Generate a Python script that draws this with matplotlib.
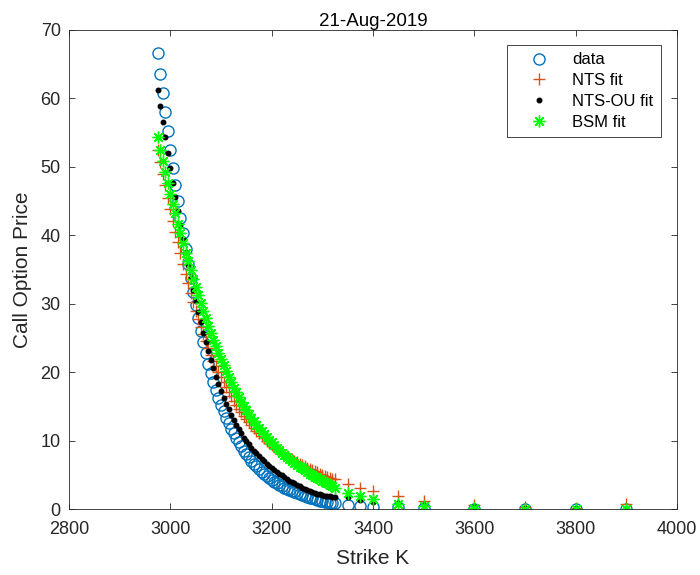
import matplotlib
matplotlib.use('Agg')
import matplotlib.pyplot as plt

plt.rcParams['font.family'] = ['Liberation Sans', 'DejaVu Sans']

# strikes (K)
strikes = [2975, 2980, 2985, 2990, 2995, 3000, 3005, 3010, 3015, 3020,
           3025, 3030, 3035, 3040, 3045, 3050, 3055, 3060, 3065, 3070,
           3075, 3080, 3085, 3090, 3095, 3100, 3105, 3110, 3115, 3120,
           3125, 3130, 3135, 3140, 3145, 3150, 3155, 3160, 3165, 3170,
           3175, 3180, 3185, 3190, 3195, 3200, 3205, 3210, 3215, 3220,
           3225, 3230, 3235, 3240, 3245, 3250, 3255, 3260, 3265, 3270,
           3275, 3280, 3285, 3290, 3295, 3300, 3305, 3310, 3315, 3320,
           3325, 3350, 3375, 3400, 3450, 3500, 3600, 3700, 3800, 3900]

# market call prices
price_data = [66.7, 63.6, 60.8, 58.0, 55.3, 52.5, 49.9, 47.4, 45.0, 42.6,
              40.3, 38.0, 35.9, 33.8, 31.8, 29.8, 27.9, 26.1, 24.4, 22.8,
              21.3, 19.9, 18.6, 17.4, 16.3, 15.3, 14.3, 13.4, 12.6, 11.8,
              11.1, 10.4, 9.8, 9.2, 8.6, 8.1, 7.6, 7.1, 6.7, 6.3,
              5.9, 5.5, 5.2, 4.9, 4.6, 4.3, 4.0, 3.8, 3.6, 3.4,
              3.2, 3.0, 2.8, 2.65, 2.5, 2.35, 2.2, 2.05, 1.9, 1.8,
              1.7, 1.6, 1.5, 1.4, 1.3, 1.2, 1.15, 1.05, 1.0, 0.95,
              0.9, 0.65, 0.55, 0.4, 0.3, 0.2, 0.1, 0.08, 0.06, 0.05]

# NTS model prices
price_nts = [52.4, 50.7, 49.0, 47.3, 45.5, 43.8, 42.1, 40.5, 39.0, 37.4,
             35.9, 34.4, 33.0, 31.6, 30.3, 29.0, 27.8, 26.7, 25.6, 24.6,
             23.6, 22.6, 21.7, 20.9, 20.1, 19.3, 18.6, 17.9, 17.2, 16.5,
             15.9, 15.3, 14.7, 14.2, 13.7, 13.2, 12.7, 12.3, 11.9, 11.5,
             11.1, 10.7, 10.4, 10.0, 9.7, 9.4, 9.1, 8.8, 8.5, 8.3,
             8.0, 7.8, 7.5, 7.3, 7.1, 6.9, 6.7, 6.5, 6.3, 6.1,
             5.9, 5.7, 5.6, 5.4, 5.2, 5.1, 4.9, 4.8, 4.6, 4.5,
             4.4, 3.7, 3.2, 2.75, 1.9, 1.3, 0.6, 0.3, 0.2, 0.8]

# NTS-OU model prices
price_ntsou = [61.2, 58.9, 56.6, 54.3, 52.1, 49.9, 47.7, 45.6, 43.5, 41.5,
               39.5, 37.6, 35.7, 33.9, 32.1, 30.4, 28.8, 27.3, 25.8, 24.4,
               23.1, 21.8, 20.6, 19.4, 18.3, 17.3, 16.3, 15.4, 14.6, 13.8,
               13.1, 12.4, 11.7, 11.1, 10.5, 10.0, 9.5, 9.0, 8.6, 8.2,
               7.8, 7.4, 7.1, 6.7, 6.4, 6.1, 5.8, 5.5, 5.2, 5.0,
               4.7, 4.5, 4.2, 4.0, 3.8, 3.6, 3.4, 3.2, 3.0, 2.85,
               2.7, 2.55, 2.4, 2.3, 2.2, 2.1, 2.0, 1.95, 1.9, 1.85,
               1.8, 1.75, 1.4, 1.1, 0.9, 0.65, 0.4, 0.25, 0.15, 0.1]

# Black-Scholes prices
price_bsm = [54.4, 52.5, 50.9, 49.2, 47.7, 46.1, 44.6, 43.2, 41.7, 40.3,
             38.9, 37.5, 36.2, 34.9, 33.7, 32.5, 31.3, 30.1, 29.0, 27.9,
             26.8, 25.8, 24.8, 23.8, 22.9, 22.0, 21.1, 20.2, 19.4, 18.6,
             17.8, 17.1, 16.4, 15.7, 15.1, 14.5, 13.9, 13.4, 12.9, 12.4,
             11.9, 11.4, 11.0, 10.6, 10.2, 9.8, 9.4, 9.0, 8.7, 8.3,
             8.0, 7.7, 7.4, 7.1, 6.8, 6.5, 6.2, 6.0, 5.7, 5.5,
             5.2, 5.0, 4.8, 4.6, 4.4, 4.2, 4.0, 3.8, 3.6, 3.4,
             3.2, 2.4, 1.9, 1.5, 0.8, 0.45, 0.15, 0.08, 0.05, 0.03]

axis_col = '#262626'

fig = plt.figure(figsize=(7, 5.75), dpi=100)
ax = fig.add_axes([0.0986, 0.114, 0.8686, 0.834])

ax.plot(strikes, price_data, linestyle='none', marker='o', markersize=8,
        markerfacecolor='none', markeredgecolor='#0072BD', markeredgewidth=1.0,
        label='data')
ax.plot(strikes, price_nts, linestyle='none', marker='+', markersize=9,
        markeredgecolor='#D95319', markeredgewidth=1.0, label='NTS fit')
ax.plot(strikes, price_ntsou, linestyle='none', marker='.', markersize=6.5,
        color='k', label='NTS-OU fit')
ax.plot(strikes, price_bsm, linestyle='none', marker=(8, 2, 0), markersize=8.5,
        markeredgecolor='#00FF00', markeredgewidth=1.0, label='BSM fit')

ax.set_xlim(2800, 4000)
ax.set_ylim(0, 70)
ax.set_xticks(range(2800, 4001, 200))
ax.set_yticks(range(0, 71, 10))

ax.tick_params(direction='in', top=True, right=True, length=4, width=0.6,
               colors=axis_col, labelsize=13)
ax.tick_params(axis='x', pad=8)
ax.tick_params(axis='y', pad=6)
for s in ax.spines.values():
    s.set_color(axis_col)
    s.set_linewidth(0.6)

ax.set_xlabel('Strike K', fontsize=15, color=axis_col, labelpad=8)
ax.set_ylabel('Call Option Price', fontsize=15, color=axis_col, labelpad=6)
ax.set_title('21-Aug-2019', fontsize=13.5, color='black', pad=3)

leg = ax.legend(loc='upper right', bbox_to_anchor=(0.9737, 0.9687),
                borderaxespad=0, fontsize=12, fancybox=False, framealpha=1,
                edgecolor=axis_col, handlelength=3.0, handletextpad=0.5,
                borderpad=0.45, labelspacing=0.35)
leg.get_frame().set_linewidth(0.6)

fig.savefig('out.png', dpi=100)
